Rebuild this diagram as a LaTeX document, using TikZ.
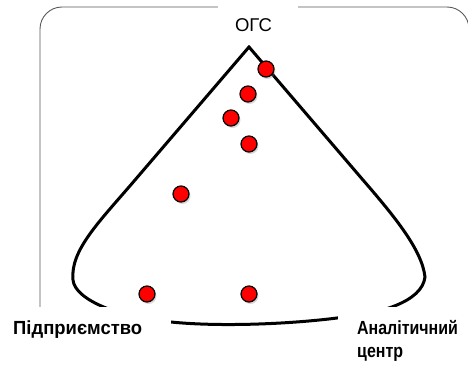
\documentclass[tikz,border=0pt]{standalone}
\usepackage{fontspec}
\setmainfont{Liberation Sans}
\usetikzlibrary{shadows}

\begin{document}
\begin{tikzpicture}[x=1pt,y=-1pt,
	dot/.style={circle,draw=black,line width=1.2pt,fill=red,minimum size=16pt,inner sep=0pt,drop shadow={shadow xshift=1.5pt,shadow yshift=-2pt,opacity=0.3}},
	title/.style={inner sep=0pt,font=\fontsize{18.5}{22}\selectfont},
	side/.style={inner sep=0pt,align=left,font=\bfseries\fontsize{19}{23}\selectfont}]
	\useasboundingbox (0,0) rectangle (468,364);
	\draw [gray!70!black,line width=0.9pt,rounded corners=22pt] (40,400) rectangle (469,7);
	\draw [line width=3pt] (249,47) -- (135,180) .. controls (100,221) and (70,250) .. (73,280) .. controls (75,300) and (120,318) .. (171,322) .. controls (220,327) and (290,324) .. (337,318) .. controls (380,314) and (422,302) .. (425,277) .. controls (422,250) and (395,217) .. (363,180) -- cycle;
	\fill [white] (218,0) rectangle (298,45);
	\fill [white] (-5,307) rectangle (171,400);
	\fill [white] (338,307) rectangle (475,400);
	\node [title,anchor=base] (ogc) at (253.5,31.5) {ОГС};
	\node [side,anchor=base west] (firm) at (13,334) {\scalebox{0.97}[1]{Підприємство}};
	\node [side,anchor=north west] (centre) at (357,320) {\scalebox{0.84}[1]{Аналітичний}\\\scalebox{0.84}[1]{центр}};
	\node [dot] (d1) at (266,69) {};
	\node [dot] (d2) at (248,94) {};
	\node [dot] (d3) at (231,118) {};
	\node [dot] (d4) at (249,144) {};
	\node [dot] (d5) at (181,194) {};
	\node [dot] (d6) at (147,294) {};
	\node [dot] (d7) at (249,294) {};
\end{tikzpicture}
\end{document}
